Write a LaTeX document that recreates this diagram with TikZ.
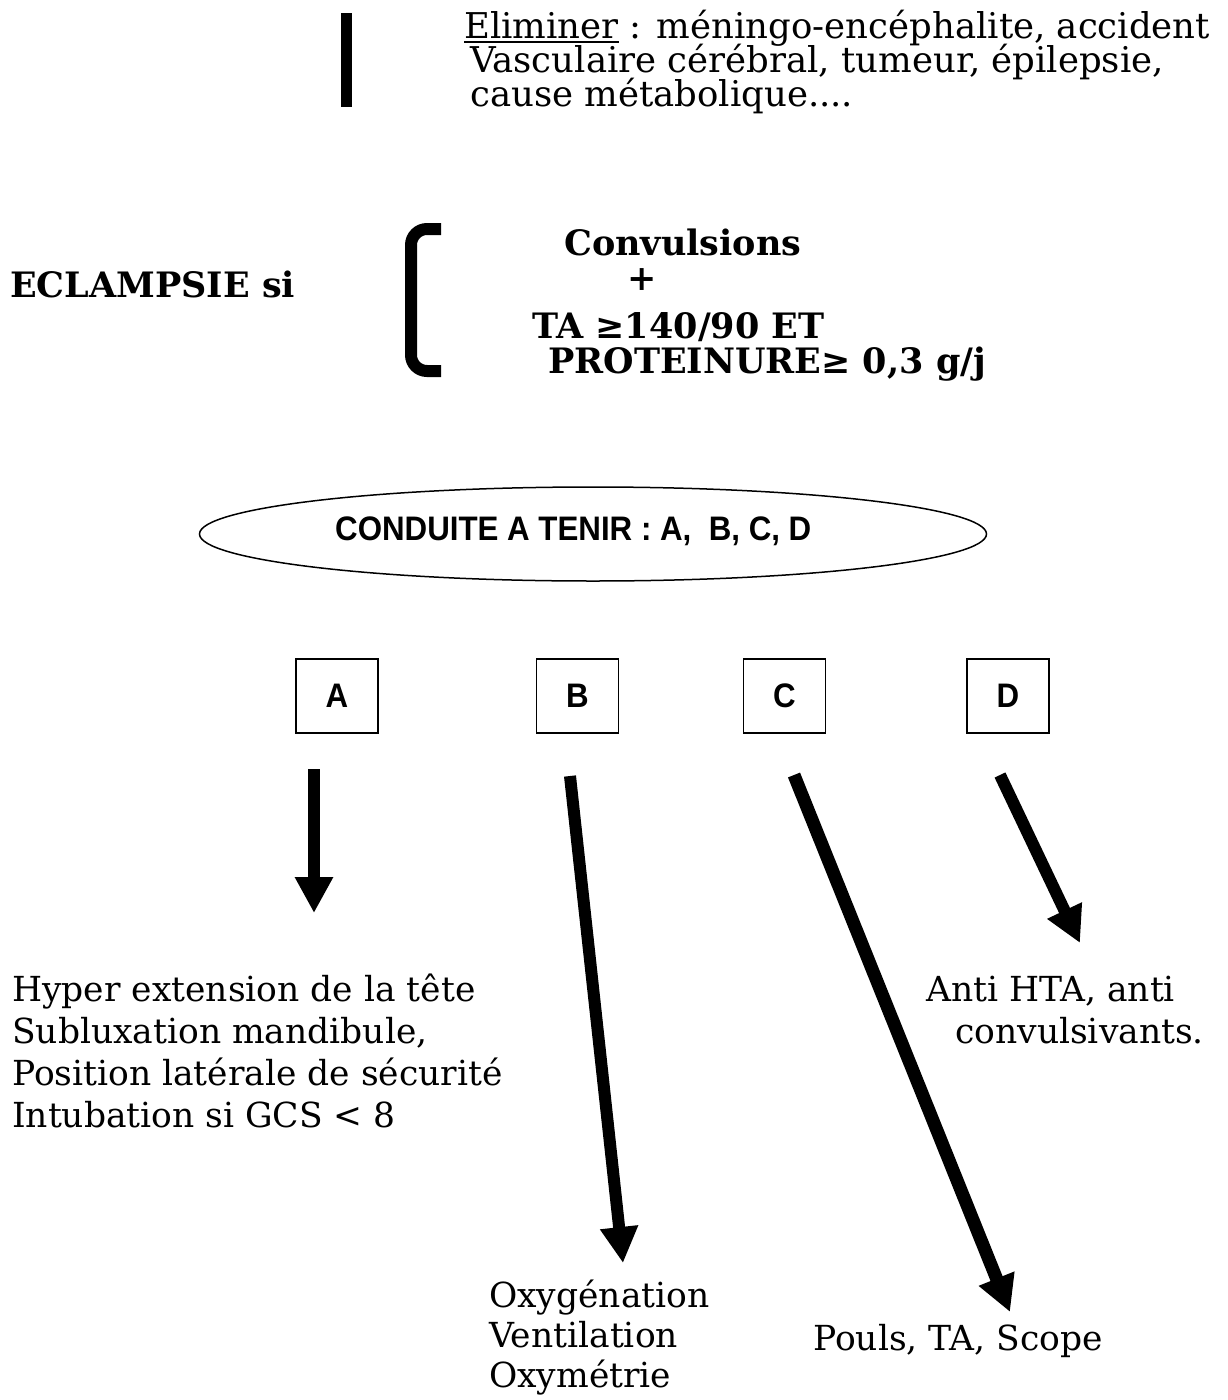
\documentclass[tikz,border=0pt]{standalone}
\usepackage{fontspec}
\setmainfont{DejaVu Serif}
\newfontfamily\sansb{Liberation Sans}[FakeStretch=0.92]
\usetikzlibrary{arrows.meta,shapes.geometric}
\newcommand\ulx[1]{\leavevmode\vtop{\hbox{#1}\kern2pt\hrule height 2pt}}
\tikzset{
 body/.style={inner sep=0pt, anchor=base west, font=\fontsize{34.5}{40}\selectfont},
 topt/.style={inner sep=0pt, anchor=base west, font=\fontsize{35.5}{40}\selectfont},
 boldt/.style={inner sep=0pt, anchor=base west, font=\fontsize{35}{40}\selectfont\bfseries},
 sanst/.style={font=\sansb\bfseries\fontsize{34}{38}\selectfont},
 letterbox/.style={draw, line width=1.5pt, minimum width=82pt, minimum height=74pt, inner sep=0pt, sanst},
 bigarrow/.style={line width=12pt, -{Triangle[length=36pt,width=36pt]}},
}
\begin{document}
\begin{tikzpicture}[x=1pt,y=-1pt]
\useasboundingbox (0,0) rectangle (1228,1400);
\fill[white] (0,0) rectangle (1228,1400);

% top bar and exclusion text
\coordinate (bart) at (346,13);
\coordinate (barb) at (346,107);
\draw[line width=11pt] (bart) -- (barb);
\node[topt] (el1) at (464,38) {\ulx{Eliminer} : méningo-encéphalite, accident};
\node[topt] (el2) at (470,72) {Vasculaire cérébral, tumeur, épilepsie,};
\node[topt] (el3) at (470,106) {cause métabolique....};

% eclampsie
\node[boldt] (ecl) at (10,297) {ECLAMPSIE si};
\draw[line width=12pt, rounded corners=16pt] (441,229) -- (411,229) -- (411,371) -- (441,371);
\node[boldt] (conv) at (564,255) {Convulsions};
\node[boldt, anchor=center] (plus) at (642,280) {+};
\node[boldt] (ta) at (532,338) {TA ≥140/90 ET};
\node[boldt] (prot) at (548,373) {PROTEINURE≥ 0,3 g/j};

% conduite a tenir
\node[draw, ellipse, line width=1.5pt, minimum width=787pt, minimum height=94pt, inner sep=0pt] (cat) at (593,534) {};
\node[sanst, inner sep=0pt, anchor=base west] (cattxt) at (335,540) {CONDUITE A TENIR : A,~ B, C, D};

\node[letterbox] (A) at (337,696) {A};
\node[letterbox] (B) at (577.5,696) {B};
\node[letterbox] (C) at (784.5,696) {C};
\node[letterbox] (D) at (1008,696) {D};

% arrows
\coordinate (a0) at (314,769); \coordinate (a1) at (314,913);
\coordinate (b0) at (570,776); \coordinate (b1) at (623,1263);
\coordinate (c0) at (794,775); \coordinate (c1) at (1010,1312);
\coordinate (d0) at (1000,775); \coordinate (d1) at (1080,943);
\draw[bigarrow] (a0) -- (a1);
\draw[bigarrow] (b0) -- (b1);
\draw[bigarrow, line width=13pt] (c0) -- (c1);
\draw[bigarrow] (d0) -- (d1);

% A texts
\node[body] (ta1) at (12,1001) {Hyper extension de la tête};
\node[body] (ta2) at (12,1043) {Subluxation mandibule,};
\node[body] (ta3) at (12,1085) {Position latérale de sécurité};
\node[body] (ta4) at (12,1127) {Intubation si GCS < 8};

% D texts
\node[body] (td1) at (926,1001) {Anti HTA, anti};
\node[body] (td2) at (955,1043) {convulsivants.};

% B texts
\node[body] (tb1) at (489,1307) {Oxygénation};
\node[body] (tb2) at (489,1347) {Ventilation};
\node[body] (tb3) at (489,1387) {Oxymétrie};

% C text
\node[body] (tc1) at (813,1350) {Pouls, TA, Scope};
\end{tikzpicture}
\end{document}
